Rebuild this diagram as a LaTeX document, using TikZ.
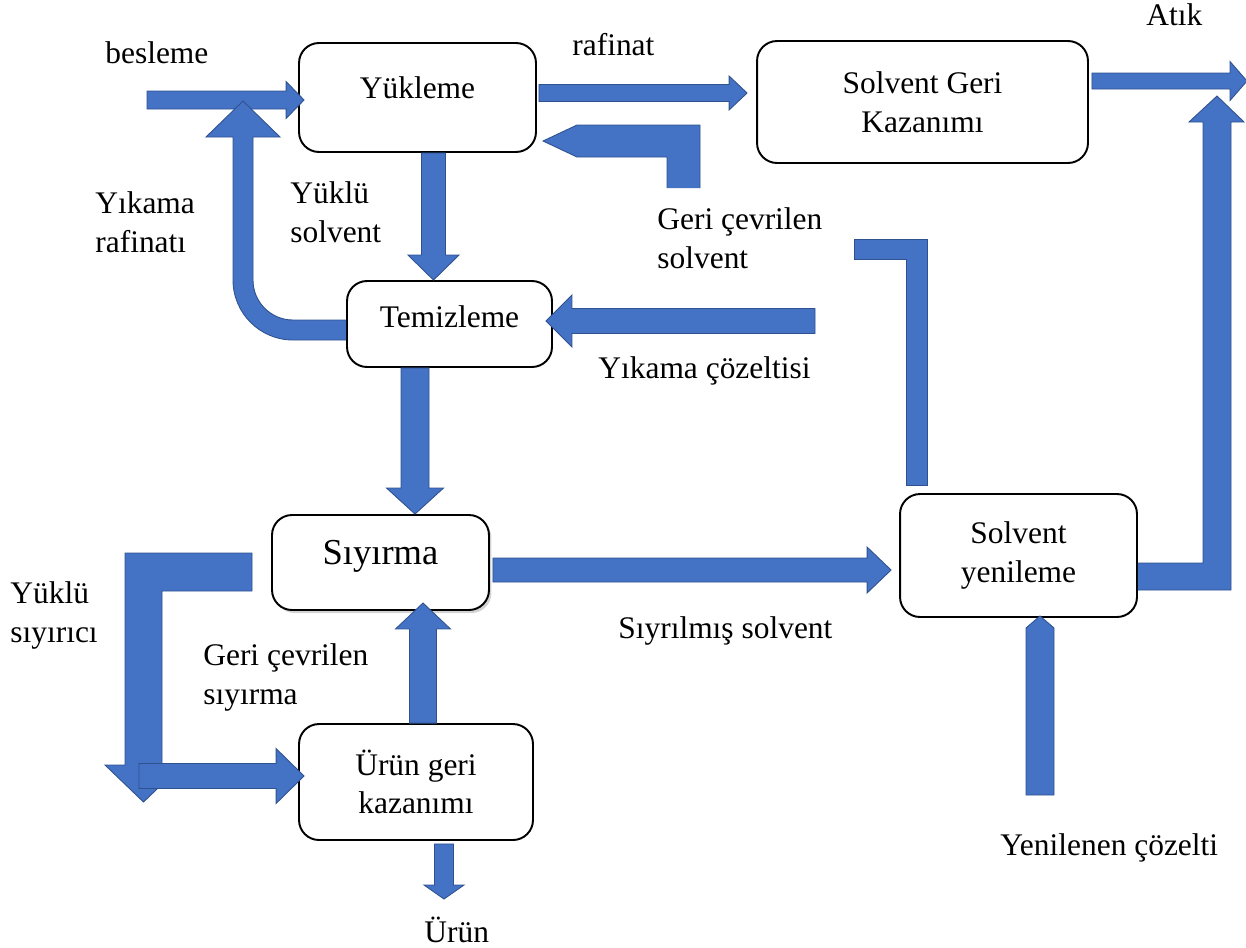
\documentclass[tikz,border=0pt]{standalone}
\usepackage{fontspec}
\setmainfont{Liberation Serif}
\usepackage{xcolor}
\usetikzlibrary{calc,shadows}

\definecolor{flowfill}{HTML}{4472C4}
\definecolor{flowline}{HTML}{2F528F}

\begin{document}
\begin{tikzpicture}[
  x=0.02cm, y=-0.02cm,
  unit/.style={draw, line width=1.1pt, rounded corners=0.4cm, fill=white, align=center, inner sep=0pt, font=\fontsize{17.9}{21.9}\selectfont},
  tag/.style={anchor=base west, align=left, inner sep=0pt, font=\fontsize{17.9}{21.9}\selectfont},
  flow/.style args={#1/#2/#3}{fill=flowfill, draw=flowline, line width=0.5pt, line join=miter,
    to path={(\tikztostart) coordinate (fs) (\tikztotarget) coordinate (ft)
      ($(fs)!#1!90:(ft)$) -- ($(ft)!#3!(fs)!#1!-90:(fs)$) -- ($(ft)!#3!(fs)!#2!-90:(fs)$)
      -- (ft) -- ($(ft)!#3!(fs)!#2!90:(fs)$) -- ($(ft)!#3!(fs)!#1!90:(fs)$)
      -- ($(fs)!#1!-90:(ft)$) -- cycle}},
  pipe/.style={fill=flowfill, draw=flowline, line width=0.5pt, line join=miter},
]
  \useasboundingbox (0,0) rectangle (1246,947);

  % Units
  \node[unit, minimum width=4.74cm, minimum height=2.18cm, text depth=0.4cm] (yukleme) at (417.5,97.5) {Yükleme};
  \node[unit, minimum width=6.62cm, minimum height=2.44cm] (sgk) at (922.5,102) {Solvent Geri\\Kazanımı};
  \node[unit, minimum width=4.1cm, minimum height=1.72cm, text depth=0.31cm] (temizleme) at (449.5,324) {Temizleme};
  \node[unit, minimum width=4.34cm, minimum height=1.9cm, text depth=0.4cm, font=\fontsize{20.8}{25}\selectfont,
    drop shadow={opacity=0.35, shadow xshift=0.05cm, shadow yshift=-0.06cm}] (siyirma) at (380.5,562.5) {Sıyırma};
  \node[unit, minimum width=4.68cm, minimum height=2.32cm] (urun) at (416,782) {Ürün geri\\kazanımı};
  \node[unit, minimum width=4.74cm, minimum height=2.46cm] (syen) at (1018.5,555.5) {Solvent\\yenileme};

  % Stream labels (base = last line)
  \node[tag] (besleme) at (105,63) {besleme};
  \node[tag] (rafinat) at (572,55) {rafinat};
  \node[tag] (atik) at (1146,25) {Atık};
  \node[tag] (yrafinat) at (95,252) {Yıkama\\rafinatı};
  \node[tag] (ysolvent) at (290,242) {Yüklü\\solvent};
  \node[tag] (gsolvent) at (657,268) {Geri çevrilen\\solvent};
  \node[tag] (ycozelti) at (598,378) {Yıkama çözeltisi};
  \node[tag] (ysiyirici) at (10,642) {Yüklü\\sıyırıcı};
  \node[tag] (gsiyirma) at (203,704) {Geri çevrilen\\sıyırma};
  \node[tag] (ssolvent) at (618,638) {Sıyrılmış solvent};
  \node[tag] (ycozelti2) at (1000,855) {Yenilenen çözelti};
  \node[tag] (urunout) at (424,942) {Ürün};

  % Free ends
  \coordinate (feed) at (147,100);
  \coordinate (wash) at (815,321);
  \coordinate (waste) at (1247,81);
  \coordinate (product) at (444,899);
  \coordinate (fresh) at (1040,795);
  \coordinate (loaded) at (139,776);

  % Straight flows
  \draw[flow={0.18cm/0.37cm/0.36cm}] (feed) to ($(feed -| yukleme.west)+(6,0)$);
  \draw[flow={0.17cm/0.34cm/0.36cm}] ($(yukleme.east)+(2,-4.5)$) to ($(yukleme.east -| sgk.west)+(-9,-4.5)$);
  \draw[flow={0.24cm/0.51cm/0.5cm}] ($(yukleme.south)!.5!(yukleme.south -| temizleme.north)$) to ($(temizleme.north)!.5!(temizleme.north -| yukleme.south)$);
  \draw[flow={0.25cm/0.52cm/0.52cm}] (wash) to ($(wash -| temizleme.east)+(-7,0)$);
  \draw[flow={0.28cm/0.57cm/0.52cm}] ($(temizleme.south)!.5!(temizleme.south -| siyirma.north)$) to ($(siyirma.north)!.5!(siyirma.north -| temizleme.south)$);
  \draw[flow={0.24cm/0.46cm/0.48cm}] ($(siyirma.east)+(3,7.5)$) to ($(siyirma.east -| syen.west)+(-8,7.5)$);
  \draw[flow={0.16cm/0.39cm/0.34cm}] ($(sgk.east |- waste)+(3,0)$) to (waste);
  \draw[flow={0.27cm/0.55cm/0.52cm}] ($(urun.north)+(7,0)$) to ($(siyirma.south -| urun.north)+(7,-8)$);
  \draw[flow={0.19cm/0.4cm/0.28cm}] ($(urun.south -| product)+(0,3)$) to (product);
  \draw[flow={0.28cm/0.28cm/0.24cm}] (fresh) to ($(syen.south -| fresh)+(0,-2)$);

  % Bent flows
  \draw[pipe] (temizleme.west |- 0,340) -- (293,340) .. controls (259.9,340) and (233,313.1) .. (233,280)
    -- (233,137) -- (206,137) -- (243,101) -- (280,137) -- (253,137) -- (253,280)
    .. controls (253,302.1) and (270.9,320) .. (293,320) -- (temizleme.west |- 0,320);
  \draw[pipe] (700,188) -- (700,125) -- (577,125) -- (543,141) -- (577,157) -- (667,157) -- (667,188);
  \draw[pipe] (854,239) -- (927,239) -- (927,485) -- (906,485) -- (906,259) -- (854,259) -- cycle;
  \draw[pipe] (syen.east |- 0,563) -- (1203,563) -- (1203,122) -- (1189,122) -- (1217,96) -- (1244,122)
    -- (1231,122) -- (1231,590) -- (syen.east |- 0,590);
  \draw[pipe] (252,553) -- (125,553) -- (125,765) -- (105,765) -- (143.5,802) -- (182,765) -- (162,765)
    -- (162,591) -- (252,591) -- cycle;
  \draw[flow={0.25cm/0.55cm/0.56cm}] (loaded) to ($(loaded -| urun.west)+(6,0)$);
\end{tikzpicture}
\end{document}
